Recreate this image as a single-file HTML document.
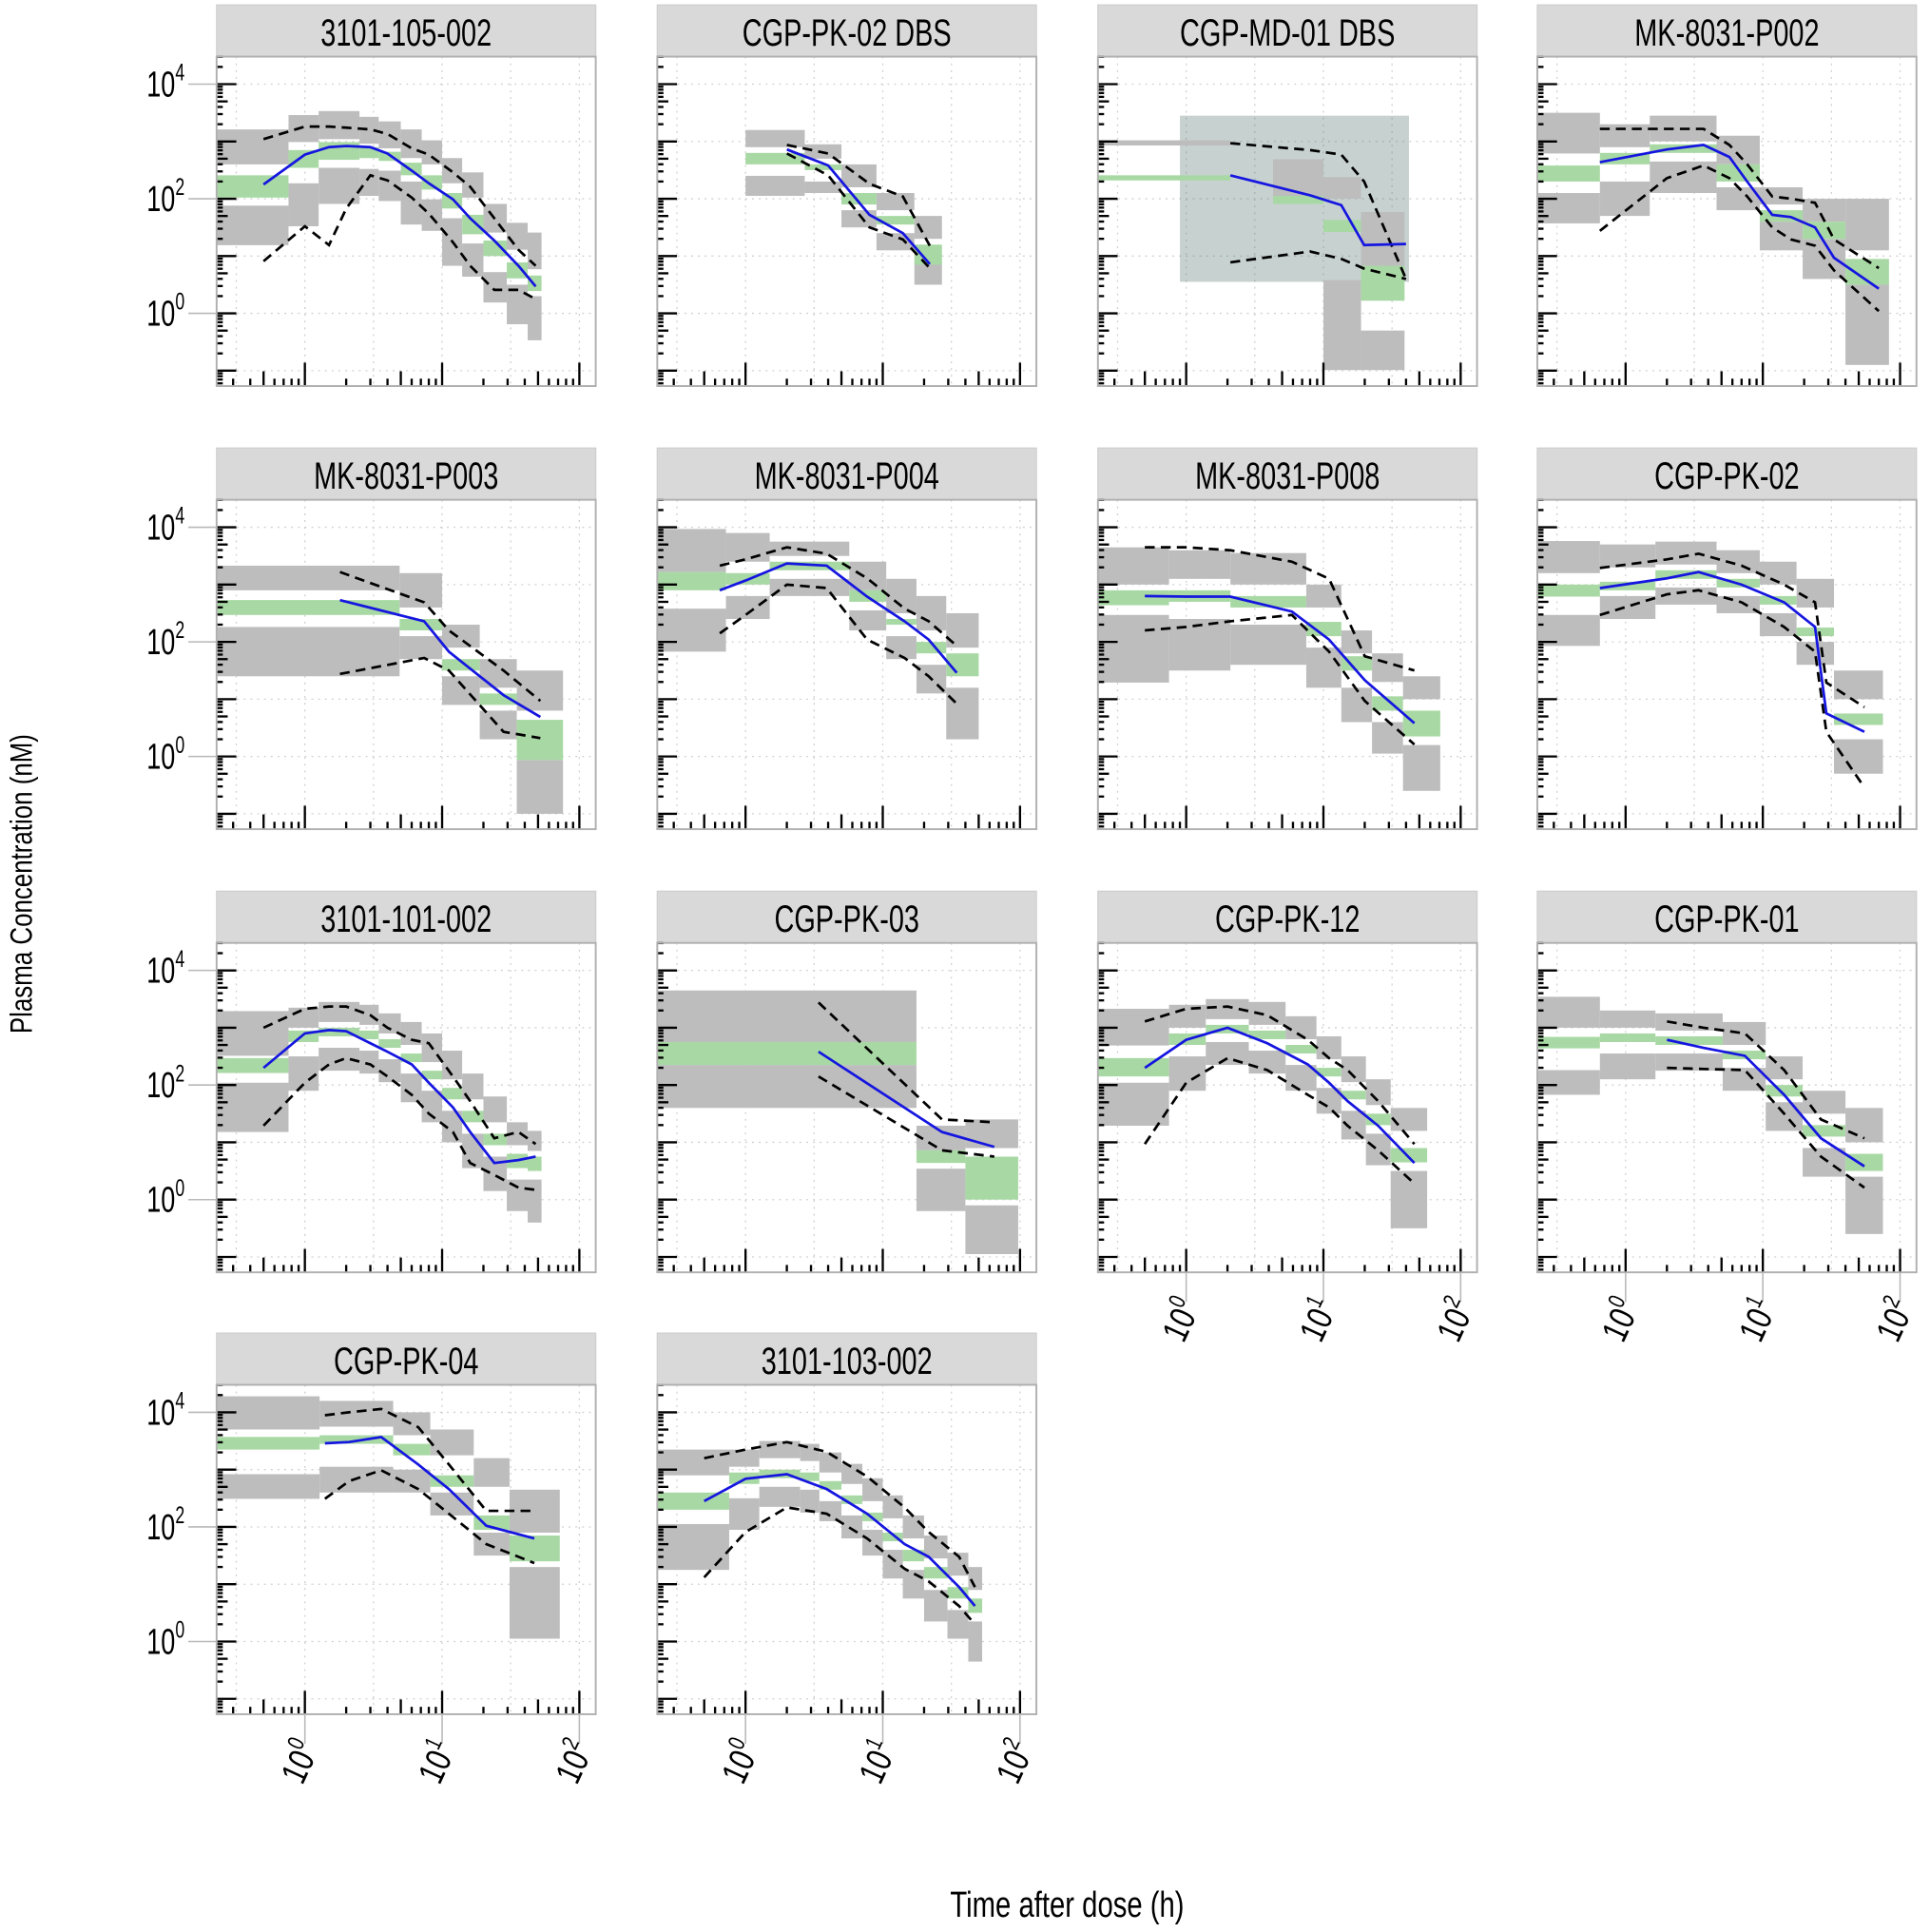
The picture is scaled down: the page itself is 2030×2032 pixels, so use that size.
<!DOCTYPE html>
<html><head><meta charset="utf-8">
<style>
html,body{margin:0;padding:0;background:#fff;}
svg{display:block;}
text{font-family:"Liberation Sans Narrow","Liberation Sans",sans-serif;}
</style></head>
<body>
<svg id="chart" width="2030" height="2032" viewBox="0 0 1568 1569.5" xmlns="http://www.w3.org/2000/svg">
<text x="0" y="0" transform="translate(26,718) rotate(-90) scale(0.8,1)" text-anchor="middle" font-size="25">Plasma Concentration (nM)</text>
<text x="0" y="0" transform="translate(867,1557) scale(0.78,1)" text-anchor="middle" font-size="29">Time after dose (h)</text>
</svg>
<script>
const panelNames = ["3101-105-002","CGP-PK-02 DBS","CGP-MD-01 DBS","MK-8031-P002","MK-8031-P003","MK-8031-P004","MK-8031-P008","CGP-PK-02","3101-101-002","CGP-PK-03","CGP-PK-12","CGP-PK-01","CGP-PK-04","3101-103-002"];
const yTickExponents = [0,2,4];
const xTickExponents = [0,1,2];
// simulated prediction-interval bins (hours)
const binStart = [
 [0.23,0.76,1.26,2.5,3.45,5,7.1,10,14,20,29.6,42],
 [1.0,2.7,5,9,17],
 [0.23,4.3,10,18.8],
 [0.23,0.65,1.5,4.6,9.5,19.5,40],
 [0.23,4.9,10,18.8,35],
 [0.23,0.72,1.5,5.7,10.6,17.6,29],
 [0.23,0.75,2.1,7.5,13.5,22.6,38],
 [0.23,0.65,1.65,4.6,9.5,17.6,33],
 [0.23,0.76,1.26,2.5,3.45,5,7.1,10,14,20,29.6,42],
 [0.23,17.6,40],
 [0.23,0.75,1.39,2.86,5.3,8.9,13.5,20.4,30.9],
 [0.23,0.65,1.65,5.1,10.5,19.5,40],
 [0.23,1.28,4.4,8.2,17,31],
 [0.23,0.76,1.26,2.5,3.45,5,7.1,10,14,20,29.6,42]];
const binEnd = [
 [0.76,1.26,2.5,3.45,5,7.1,10,14,20,29.6,42,53],
 [2.7,5,9,17,27],
 [2.1,10,18.8,39],
 [0.65,1.5,4.6,9.5,19.5,40,83],
 [4.9,10,18.8,35,76],
 [0.72,1.5,5.7,10.6,17.6,29,50],
 [0.75,2.1,7.5,13.5,22.6,38,71],
 [0.65,1.65,4.6,9.5,17.6,33,75],
 [0.76,1.26,2.5,3.45,5,7.1,10,14,20,29.6,42,53],
 [17.6,40,97],
 [0.75,1.39,2.86,5.3,8.9,13.5,20.4,30.9,57],
 [0.65,1.65,5.1,10.5,19.5,40,75],
 [1.28,4.4,8.2,17,31,72],
 [0.76,1.26,2.5,3.45,5,7.1,10,14,20,29.6,42,53]];
// log10 concentration bounds of PI boxes
const p95Hi = [
 [3.21,3.46,3.53,3.43,3.35,3.21,3.02,2.71,2.46,1.91,1.58,1.41],
 [3.2,2.95,2.6,2.1,1.7],
 [3.02,2.69,2.38,1.77],
 [3.5,3.3,3.45,3.1,2.2,2.0,2.0],
 [3.33,3.2,2.3,1.7,1.5],
 [3.97,3.9,3.75,3.4,3.1,2.8,2.5],
 [3.65,3.6,3.55,3.0,2.2,1.8,1.4],
 [3.76,3.7,3.75,3.6,3.4,3.1,1.5],
 [3.29,3.35,3.45,3.4,3.25,3.1,2.9,2.6,2.2,1.8,1.35,1.2],
 [3.65,1.29,1.4],
 [3.33,3.4,3.5,3.45,3.2,2.85,2.5,2.1,1.6],
 [3.54,3.3,3.25,3.1,2.5,1.9,1.6],
 [4.28,4.2,4.0,3.7,3.2,2.65],
 [3.35,3.35,3.5,3.45,3.3,3.1,2.85,2.55,2.2,1.85,1.55,1.3]];
const p95Lo = [
 [2.60,2.99,3.04,2.96,2.88,2.71,2.60,2.27,2.02,1.41,1.11,0.77],
 [2.9,2.7,2.2,1.8,1.3],
 [2.93,2.35,2.0,0.83],
 [2.79,2.9,3.0,2.6,1.9,1.6,1.1],
 [2.9,2.6,1.9,1.2,0.8],
 [3.22,3.4,3.5,2.9,2.5,2.2,1.9],
 [3.0,3.1,3.0,2.6,1.8,1.3,1.0],
 [3.2,3.3,3.35,3.2,3.0,2.6,1.0],
 [2.51,3.0,3.1,3.05,2.9,2.7,2.4,2.1,1.75,1.35,0.95,0.85],
 [2.75,0.86,0.9],
 [2.69,3.0,3.15,3.05,2.8,2.45,2.05,1.65,1.2],
 [3.0,3.0,2.95,2.7,2.1,1.5,1.0],
 [3.7,3.75,3.6,3.25,2.7,1.9],
 [2.9,3.05,3.2,3.15,2.95,2.75,2.45,2.15,1.8,1.45,1.15,0.9]];
const medHi = [
 [2.41,2.85,2.99,2.90,2.82,2.63,2.41,2.10,1.72,1.27,0.89,0.66],
 [2.8,2.6,2.1,1.7,1.2],
 [2.41,2.05,1.63,0.83],
 [2.58,2.8,2.95,2.6,1.8,1.6,0.95],
 [2.73,2.4,1.7,1.1,0.64],
 [3.22,3.2,3.4,2.9,2.4,2.0,1.8],
 [2.9,2.9,2.8,2.35,1.75,1.05,0.8],
 [3.0,3.05,3.25,3.1,2.8,2.25,0.75],
 [2.47,2.95,3.0,2.95,2.8,2.55,2.25,1.95,1.55,1.15,0.8,0.75],
 [2.75,0.86,0.75],
 [2.47,2.9,3.05,2.95,2.7,2.3,1.9,1.5,0.9],
 [2.84,2.9,2.85,2.6,2.0,1.3,0.8],
 [3.57,3.6,3.45,2.9,2.2,1.85],
 [2.6,2.95,3.0,2.95,2.8,2.55,2.25,1.9,1.6,1.3,0.95,0.75]];
const medLo = [
 [2.02,2.54,2.68,2.71,2.66,2.41,2.16,1.83,1.38,1.00,0.61,0.39],
 [2.6,2.5,1.9,1.55,0.85],
 [2.32,1.91,1.42,0.22],
 [2.3,2.6,2.8,2.3,1.6,1.3,0.5],
 [2.47,2.2,1.5,0.9,-0.06],
 [2.9,3.0,3.25,2.7,2.3,1.8,1.4],
 [2.64,2.7,2.6,2.1,1.5,0.8,0.35],
 [2.79,2.9,3.1,2.95,2.65,2.1,0.55],
 [2.21,2.75,2.85,2.8,2.65,2.4,2.1,1.75,1.35,0.95,0.55,0.5],
 [2.35,0.64,0.0],
 [2.15,2.7,2.9,2.8,2.55,2.15,1.75,1.3,0.65],
 [2.64,2.75,2.7,2.45,1.8,1.1,0.5],
 [3.35,3.45,3.25,2.7,1.95,1.4],
 [2.3,2.75,2.85,2.8,2.65,2.4,2.1,1.75,1.4,1.1,0.75,0.5]];
const p5Hi = [
 [1.88,2.27,2.54,2.52,2.49,2.30,1.99,1.66,1.22,0.72,0.50,0.30],
 [2.4,2.3,1.8,1.4,0.9],
 [0.5,2.35,0.58,-0.3],
 [2.1,2.3,2.65,2.2,1.6,1.3,0.5],
 [2.26,2.1,1.4,0.8,-0.06],
 [2.58,2.8,3.1,2.55,2.1,1.6,1.2],
 [2.47,2.4,2.3,1.9,1.2,0.6,0.2],
 [2.47,2.8,2.95,2.8,2.5,2.0,0.3],
 [2.04,2.5,2.65,2.6,2.45,2.2,1.9,1.55,1.15,0.75,0.35,0.35],
 [2.35,0.54,-0.1],
 [2.04,2.5,2.75,2.6,2.35,1.95,1.55,1.15,0.5],
 [2.26,2.55,2.55,2.3,1.7,0.9,0.4],
 [2.92,3.05,3.0,2.6,1.9,1.3],
 [2.05,2.5,2.7,2.65,2.45,2.2,1.95,1.6,1.25,0.9,0.55,0.35]];
const p5Lo = [
 [1.19,1.52,1.91,2.05,1.96,1.55,1.44,0.83,0.64,0.19,-0.19,-0.47],
 [2.05,2.1,1.5,1.1,0.5],
 [0.5,2.02,-0.99,-0.99],
 [1.57,1.7,2.1,1.8,1.1,0.6,-0.9],
 [1.4,1.7,0.9,0.3,-1.0],
 [1.83,2.4,2.8,2.2,1.7,1.1,0.3],
 [1.29,1.5,1.6,1.2,0.6,0.05,-0.6],
 [1.93,2.4,2.65,2.5,2.1,1.6,-0.3],
 [1.18,1.9,2.25,2.2,2.05,1.7,1.35,1.0,0.55,0.15,-0.2,-0.4],
 [1.6,-0.2,-0.95],
 [1.29,1.9,2.35,2.2,1.9,1.5,1.05,0.6,-0.5],
 [1.83,2.1,2.25,1.9,1.2,0.4,-0.6],
 [2.49,2.6,2.6,2.2,1.5,0.05],
 [1.25,1.95,2.35,2.25,2.1,1.8,1.5,1.1,0.75,0.35,0.05,-0.35]];
// observed percentiles (time in hours, log10 concentration)
const obsTime = [
 [0.5,1,1.5,2,3,4,6,8,12,16,24,36,48],
 [2,4,8,14,22],
 [2.1,8,13.5,19.8,40],
 [0.65,2,3.7,5.7,7.7,11.7,16,24,33,70],
 [1.8,7.4,11.2,28,52],
 [0.65,1,2,3.9,7.7,14.4,21.6,34.6],
 [0.5,1,2.1,5.9,11,20,46],
 [0.65,2,3.4,7,14.3,24,29,55],
 [0.5,1,1.5,2,3,4,6,8,12,16,24,36,48],
 [3.4,27,65],
 [0.5,1,2,3.9,7.7,11,15,25,46],
 [2,3.7,7.4,14.3,26.5,55],
 [1.4,2.1,3.6,6.7,11.2,21,47],
 [0.5,1,2,3.9,7.7,14.4,21.6,36,47]];
const obsMed = [
 [2.25,2.77,2.90,2.92,2.90,2.79,2.49,2.27,1.99,1.66,1.27,0.83,0.47],
 [2.86,2.58,1.72,1.40,0.86],
 [2.41,2.06,1.89,1.19,1.21],
 [2.64,2.86,2.94,2.73,2.30,1.72,1.68,1.50,0.97,0.43],
 [2.73,2.36,1.83,1.07,0.69],
 [2.9,3.07,3.37,3.33,2.79,2.36,2.04,1.46],
 [2.8,2.79,2.79,2.53,2.04,1.33,0.58],
 [2.94,3.11,3.22,3.0,2.69,2.26,0.75,0.43],
 [2.30,2.90,2.96,2.94,2.73,2.58,2.36,2.04,1.61,1.18,0.64,0.69,0.75],
 [2.58,1.18,0.92],
 [2.30,2.79,3.0,2.73,2.36,2.04,1.72,1.29,0.64],
 [2.79,2.65,2.51,1.83,1.07,0.58],
 [3.46,3.48,3.57,3.09,2.66,2.02,1.80],
 [2.45,2.84,2.92,2.66,2.23,1.70,1.48,0.95,0.62]];
const obsP95 = [
 [3.04,3.26,3.26,3.24,3.21,3.13,2.88,2.77,2.46,2.21,1.66,1.11,0.83],
 [2.94,2.79,2.26,2.04,1.18],
 [2.97,2.85,2.77,2.3,0.6],
 [3.22,3.22,3.22,2.94,2.6,2.04,2.0,1.93,1.29,0.79],
 [3.22,2.69,2.2,1.50,0.97],
 [3.33,3.44,3.65,3.54,3.11,2.58,2.36,1.93],
 [3.65,3.65,3.6,3.4,3.1,1.75,1.5],
 [3.29,3.44,3.54,3.33,3.0,2.69,1.29,0.86],
 [3.0,3.33,3.37,3.37,3.22,3.0,2.79,2.73,2.15,1.72,1.07,1.18,0.97],
 [3.44,1.40,1.35],
 [3.11,3.33,3.37,3.22,2.79,2.47,2.26,1.72,0.97],
 [3.11,3.0,2.9,2.26,1.40,1.07],
 [3.95,4.0,4.06,3.74,3.09,2.28,2.28],
 [3.20,3.35,3.48,3.31,2.88,2.34,1.91,1.48,0.95]];
const obsP5 = [
 [0.91,1.52,1.19,1.83,2.41,2.32,2.02,1.74,1.24,0.83,0.41,0.41,0.25],
 [2.79,2.41,1.50,1.29,0.79],
 [0.89,1.08,0.95,0.78,0.6],
 [1.44,2.36,2.58,2.36,2.04,1.50,1.29,1.18,0.75,0.04],
 [1.44,1.72,1.50,0.43,0.32],
 [2.15,2.47,3.0,2.94,2.04,1.72,1.40,0.92],
 [2.2,2.26,2.36,2.47,1.83,0.97,0.21],
 [2.47,2.83,2.9,2.69,2.26,1.83,0.43,-0.54],
 [1.29,2.04,2.36,2.47,2.36,2.15,1.83,1.50,1.18,0.64,0.43,0.21,0.17],
 [2.15,0.86,0.75],
 [0.97,2.04,2.47,2.26,1.83,1.61,1.29,0.86,0.28],
 [2.30,2.28,2.26,1.50,0.75,0.21],
 [2.49,2.8,2.99,2.66,2.23,1.70,1.37],
 [1.12,1.91,2.34,2.23,1.80,1.27,1.05,0.62,0.30]];

const NS = "http://www.w3.org/2000/svg";
const svg = document.getElementById("chart");
const colLeft = [176,534,892,1249], rowTop = [4,364,724,1083];
const PW = 308, HH = 42, PH = 267.6;
const LX0 = -0.643, XDEC = 111.5, LYTOP = 4.48, YDEC = 46.55;
function mk(tag, attrs, parent){const e=document.createElementNS(NS,tag);for(const k in attrs)e.setAttribute(k,attrs[k]);(parent||svg).appendChild(e);return e;}

panelNames.forEach((name, p) => {
  const col = p % 4, row = Math.floor(p / 4);
  const L = colLeft[col], T = rowTop[row], PT = T + HH, PB = PT + PH;
  const xs = t => L + (Math.log10(t) - LX0) * XDEC;
  const xl = lt => L + (lt - LX0) * XDEC;
  const ys = lc => PT + (LYTOP - lc) * YDEC;
  const g = mk("g", {});
  
  
  const cp = mk("clipPath", {id: "clip" + p}, g);
  mk("rect", {x: L, y: PT, width: PW, height: PH}, cp);
  const hd = mk("rect", {x: L, y: T, width: PW, height: HH, fill: "#d9d9d9", stroke: "#cfcfcf", "stroke-width": 1}, g);
  
  
  const ht = mk("text", {x: 0, y: 0, "text-anchor": "middle", "font-size": 31, transform: "translate(" + (L + PW / 2) + "," + (T + 33) + ") scale(0.72,1)"}, g);
  ht.textContent = name;
  
  
  const bg = mk("rect", {x: L, y: PT, width: PW, height: PH, fill: "#fff"}, g);
  
  
  const inner = mk("g", {"clip-path": "url(#clip" + p + ")"}, g);
  for (let e = -2; e <= 5; e++) {
    const y = ys(e);
    const gl = mk("line", {x1: L, x2: L + PW, y1: y, y2: y, stroke: "#d0d0d0", "stroke-width": 1, "stroke-dasharray": "1.5,4"}, inner);
    
    
  }
  for (let e = -1; e <= 2.01; e += 0.5) {
    const x = xl(e);
    const gl = mk("line", {x1: x, x2: x, y1: PT, y2: PB, stroke: "#d0d0d0", "stroke-width": 1, "stroke-dasharray": "1.5,4"}, inner);
    
    
  }
  if (p === 2) {
    const cl = mk("rect", {x: xs(0.9), y: ys(3.45), width: xs(42) - xs(0.9), height: ys(0.55) - ys(3.45), fill: "rgba(80,115,110,0.32)"}, inner);
    
    
  }
  binStart[p].forEach((s, i) => {
    const x0 = xs(s), x1 = xs(binEnd[p][i]);
    [[p95Hi, p95Lo, "#bdbdbd", "pi-box-p95"], [p5Hi, p5Lo, "#bdbdbd", "pi-box-p5"], [medHi, medLo, "#a8d9a4", "pi-box-median"]].forEach(d => {
      const top = ys(d[0][p][i]), bot = ys(d[1][p][i]);
      if (bot - top <= 0) return;
      const r = mk("rect", {x: x0, y: top, width: x1 - x0, height: bot - top, fill: d[2]}, inner);
      
      
    });
  });
  const path = arr => obsTime[p].map((t, i) => (i ? "L" : "M") + xs(t).toFixed(1) + "," + ys(arr[p][i]).toFixed(1)).join(" ");
  const l95 = mk("path", {d: path(obsP95), fill: "none", stroke: "#000", "stroke-width": 2.1, "stroke-dasharray": "8,5"}, inner);
  
  
  const l5 = mk("path", {d: path(obsP5), fill: "none", stroke: "#000", "stroke-width": 2.1, "stroke-dasharray": "8,5"}, inner);
  
  
  const lm = mk("path", {d: path(obsMed), fill: "none", stroke: "#1515e0", "stroke-width": 2.1}, inner);
  
  
  for (let e = -2; e <= 4; e++) for (let m = 1; m <= 9; m++) {
    const lc = e + Math.log10(m);
    const y = ys(lc);
    if (y >= PT && y <= PB) {
      const len = m === 1 ? 16 : (m === 5 ? 9 : 5);
      const tk = mk("line", {x1: L, x2: L + len, y1: y, y2: y, stroke: "#000", "stroke-width": 1.8}, g);
      
      
    }
    const x = xl(lc);
    if (x >= L && x <= L + PW) {
      const xlen = m === 1 ? 19 : (m === 5 ? 12 : 6);
      const xt = mk("line", {x1: x, x2: x, y1: PB, y2: PB - xlen, stroke: "#000", "stroke-width": 1.8}, g);
      
      
    }
  }
  const bd = mk("rect", {x: L, y: PT, width: PW, height: PH, fill: "none", stroke: "#b0b0b0", "stroke-width": 1.5}, g);
  
  
  if (col === 0) {
    yTickExponents.forEach(e => {
      const y = ys(e);
      const tl = mk("line", {x1: 153, x2: L, y1: y, y2: y, stroke: "#b8b8b8", "stroke-width": 1.2}, g);
      
      
      const tx = mk("text", {x: 0, y: 0, "text-anchor": "end", "font-size": 29, transform: "translate(150," + (y + 10) + ") scale(0.72,1)"}, g);
      
      
      tx.appendChild(document.createTextNode("10"));
      const sup = mk("tspan", {dy: -13, "font-size": 19}, tx);
      sup.textContent = String(e);
    });
  }
  if (p >= 10) {
    xTickExponents.forEach(e => {
      const x = xl(e);
      const tl = mk("line", {x1: x, x2: x, y1: PB, y2: PB + 24, stroke: "#b8b8b8", "stroke-width": 1.2}, g);
      
      
      const tx = mk("text", {x: 0, y: 0, "text-anchor": "end", "font-size": 29, transform: "translate(" + (x + 12) + "," + (PB + 28) + ") rotate(-65) scale(0.78,1)"}, g);
      
      
      tx.appendChild(document.createTextNode("10"));
      const sup = mk("tspan", {dy: -13, "font-size": 19}, tx);
      sup.textContent = String(e);
    });
  }
});
</script>
</body></html>
